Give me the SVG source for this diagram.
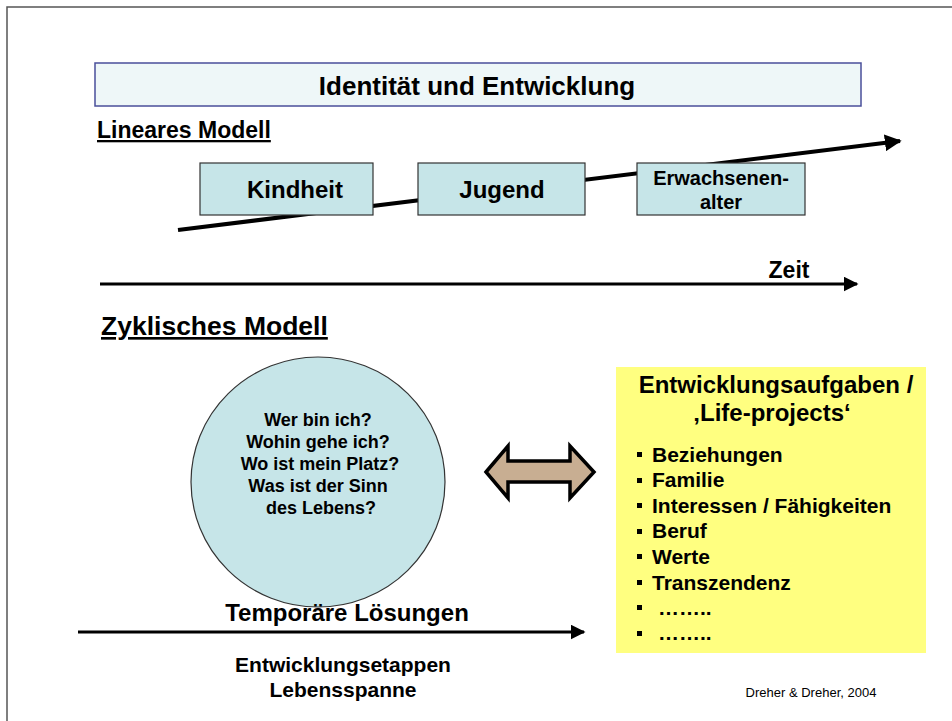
<svg xmlns="http://www.w3.org/2000/svg" width="952" height="721" viewBox="0 0 952 721">
<defs>
<style>
text{font-family:"Liberation Sans",Arial,sans-serif;font-weight:bold;fill:#000}
.box{fill:#c6e5e8;stroke:#333;stroke-width:1.2}
.ln{stroke:#000;stroke-width:4;fill:none}
.ax{stroke:#000;stroke-width:3;fill:none}
</style>
<marker id="ah" viewBox="0 0 10 10" refX="9" refY="5" markerWidth="4.2" markerHeight="4.2" orient="auto" markerUnits="strokeWidth"><path d="M0,0 L10,5 L0,10 Z" fill="#000"/></marker>
<marker id="ah2" viewBox="0 0 10 10" refX="9" refY="5" markerWidth="5" markerHeight="5" orient="auto" markerUnits="strokeWidth"><path d="M0,0 L10,5 L0,10 Z" fill="#000"/></marker>
</defs>
<rect width="952" height="721" fill="#fff"/>
<path d="M7,721 V7 H952" fill="none" stroke="#555" stroke-width="1.5"/>
<g id="title">
<rect x="95" y="63" width="766" height="43" fill="#eef7f8" stroke="#4a4f9a" stroke-width="1.5"/>
<text x="477" y="95" font-size="26" text-anchor="middle">Identität und Entwicklung</text>
</g>
<g id="lin-label"><text x="97" y="138" font-size="23" text-decoration="underline">Lineares Modell</text></g>
<g id="connectors">
<line class="ln" x1="178" y1="230" x2="900" y2="141" marker-end="url(#ah)"/>
<line class="ax" x1="100" y1="284" x2="857" y2="284" marker-end="url(#ah2)"/>
<line class="ax" x1="78" y1="632" x2="584" y2="632" marker-end="url(#ah2)"/>
</g>
<g id="kindheit"><rect class="box" x="200" y="163" width="173" height="52"/><text x="295" y="198" font-size="24" text-anchor="middle">Kindheit</text></g>
<g id="jugend"><rect class="box" x="418" y="163" width="167" height="52"/><text x="502" y="198" font-size="24" text-anchor="middle">Jugend</text></g>
<g id="erwachsenenalter"><rect class="box" x="637" y="163" width="168" height="52"/><text x="721" y="185" font-size="20" text-anchor="middle">Erwachsenen-</text><text x="721" y="209" font-size="20" text-anchor="middle">alter</text></g>
<g id="zeit"><text x="789" y="278" font-size="23" text-anchor="middle">Zeit</text></g>
<g id="zyk-label"><text x="101" y="335" font-size="26.5" text-decoration="underline">Zyklisches Modell</text></g>
<g id="circle">
<ellipse cx="318" cy="482" rx="127" ry="125" fill="#c6e5e8" stroke="#333" stroke-width="1.2"/>
<g font-size="18" text-anchor="middle">
<text x="318" y="426">Wer bin ich?</text>
<text x="318" y="448">Wohin gehe ich?</text>
<text x="320" y="470">Wo ist mein Platz?</text>
<text x="318" y="492">Was ist der Sinn</text>
<text x="321" y="514">des Lebens?</text>
</g>
</g>
<g id="double-arrow">
<path d="M486,472 L508,446 L508,461 L570,461 L570,446 L594,472 L570,498 L570,482 L508,482 L508,498 Z" fill="#c8ae92" stroke="#000" stroke-width="3.5" stroke-linejoin="miter"/>
</g>
<g id="aufgaben">
<rect x="616" y="367" width="310" height="286" fill="#ffff80"/>
<text x="776" y="393" font-size="24" text-anchor="middle">Entwicklungsaufgaben /</text>
<text x="772" y="421" font-size="24" text-anchor="middle">‚Life-projects‘</text>
<g font-size="21">
<text x="652" y="462">Beziehungen</text>
<text x="652" y="487">Familie</text>
<text x="652" y="513">Interessen / Fähigkeiten</text>
<text x="652" y="538">Beruf</text>
<text x="652" y="564">Werte</text>
<text x="652" y="590">Transzendenz</text>
<text x="658" y="615">……..</text>
<text x="658" y="640">……..</text>
</g>
<g fill="#000">
<rect x="637" y="452" width="5" height="5"/>
<rect x="637" y="478" width="5" height="5"/>
<rect x="637" y="503" width="5" height="5"/>
<rect x="637" y="529" width="5" height="5"/>
<rect x="637" y="554" width="5" height="5"/>
<rect x="637" y="580" width="5" height="5"/>
<rect x="637" y="605" width="5" height="5"/>
<rect x="637" y="631" width="5" height="5"/>
</g>
</g>
<g id="temp"><text x="347" y="621" font-size="24" text-anchor="middle">Temporäre Lösungen</text></g>
<g id="etappen">
<text x="343" y="672" font-size="21" text-anchor="middle">Entwicklungsetappen</text>
<text x="343" y="697" font-size="21" text-anchor="middle">Lebensspanne</text>
</g>
<g id="source"><text x="811" y="697" font-size="13" style="font-weight:normal" text-anchor="middle">Dreher &amp; Dreher, 2004</text></g>
</svg>
